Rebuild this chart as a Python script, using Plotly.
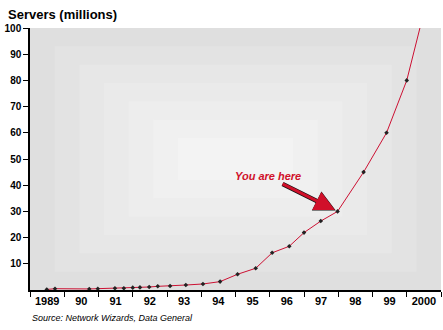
import plotly.graph_objects as go

# Internet servers (millions), sampled by fractional year
years = [1989.49, 1989.73, 1990.73, 1990.98, 1991.48, 1991.74, 1992.0, 1992.21,
         1992.48, 1992.73, 1993.09, 1993.55, 1994.05, 1994.55, 1995.06, 1995.59,
         1996.07, 1996.57, 1997.0, 1997.49, 1997.98, 1998.74, 1999.41, 2000.0, 2000.5]
servers = [0.2, 0.5, 0.4, 0.5, 0.65, 0.65, 0.9, 1.0,
           1.15, 1.4, 1.5, 1.9, 2.3, 3.2, 6.0, 8.3,
           14.2, 16.7, 21.9, 26.3, 30.0, 45.0, 60.0, 80.0, 106.0]

year_ticks = [1989, 1990, 1991, 1992, 1993, 1994, 1995, 1996, 1997, 1998, 1999, 2000]
year_labels = ["1989", "90", "91", "92", "93", "94", "95", "96", "97", "98", "99", "2000"]
y_ticks = [10, 20, 30, 40, 50, 60, 70, 80, 90, 100]

here_year, here_value = 1997.98, 30.0

FONT = "Arial, Liberation Sans, sans-serif"
RED = "#d0102a"

fig = go.Figure()
fig.add_trace(go.Scatter(
    x=years, y=servers, mode="lines+markers",
    line=dict(color="#cc1133", width=1),
    marker=dict(symbol="diamond", size=3.5, color="#222222"),
    hoverinfo="skip", showlegend=False,
))

# Soft gray panel that brightens toward the middle
shades = ["#dfdfdf", "#e3e3e3", "#e7e7e7", "#eaeaea", "#ededed", "#f0f0f0", "#f3f3f3"]
for i, c in enumerate(shades):
    fx = 0.06 * i
    fy = 0.07 * i
    fig.add_shape(type="rect", xref="paper", yref="paper",
                  x0=fx, x1=1 - fx, y0=fy, y1=1 - fy,
                  fillcolor=c, line_width=0, layer="below")

# Pointer: dark outline underneath, red arrow on top
fig.add_annotation(
    x=here_year, y=here_value, xref="x", yref="y",
    text="<b><i>You are here</i></b>", showarrow=True,
    ax=-70, ay=-35, arrowhead=2, arrowsize=0.95, arrowwidth=4.5,
    arrowcolor="#111111", standoff=2,
    font=dict(family=FONT, size=11, color="rgba(0,0,0,0)"),
)
fig.add_annotation(
    x=here_year, y=here_value, xref="x", yref="y",
    text="<b><i>You are here</i></b>", showarrow=True,
    ax=-70, ay=-35, arrowhead=2, arrowsize=1.35, arrowwidth=3,
    arrowcolor=RED, standoff=3,
    font=dict(family=FONT, size=11, color=RED),
)

fig.add_annotation(
    x=-24 / 411, y=1 + 13 / 262, xref="paper", yref="paper",
    xanchor="left", yanchor="middle",
    text="<b>Servers (millions)</b>", showarrow=False,
    font=dict(family=FONT, size=13, color="#000000"),
)
fig.add_annotation(
    x=0, y=-28 / 262, xref="paper", yref="paper", xanchor="left", yanchor="middle",
    text="<i>Source: Network Wizards, Data General</i>", showarrow=False,
    font=dict(family=FONT, size=9, color="#000000"),
)

fig.update_layout(
    width=443, height=330,
    margin=dict(l=30, r=2, t=28, b=40),
    paper_bgcolor="#ffffff", plot_bgcolor="#e0e0e0",
    xaxis=dict(
        range=[1989, 2001], tickmode="array",
        tickvals=[t + 0.5 for t in year_ticks], ticktext=year_labels,
        ticks="", showgrid=False, zeroline=False,
        showline=True, linecolor="#000000", linewidth=1.5,
        tickfont=dict(family=FONT, size=11, color="#000000", weight="bold"),
        minor=dict(tickmode="linear", tick0=1989, dtick=1, ticks="outside",
                   ticklen=5, tickcolor="#000000", tickwidth=1, showgrid=False),
    ),
    yaxis=dict(
        range=[0, 100], tickmode="array", tickvals=y_ticks,
        ticks="outside", ticklen=5, tickcolor="#000000",
        showgrid=False, zeroline=False,
        showline=True, linecolor="#000000", linewidth=1.5,
        tickfont=dict(family=FONT, size=10, color="#000000", weight="bold"),
    ),
)

fig.write_html("out.html")
